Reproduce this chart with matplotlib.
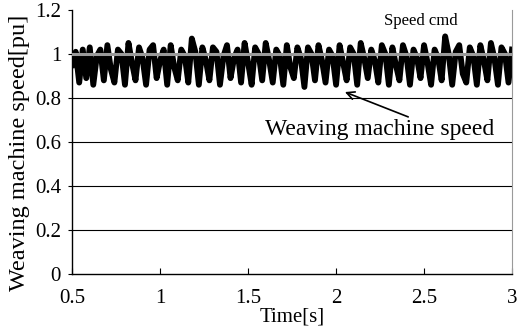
import numpy as np
import matplotlib
matplotlib.use("Agg")
from matplotlib import pyplot as plt

# speed samples every 20 ms from 0.5 s to 3.0 s
t_start = 0.5
t_step = 0.02
speed = [
	0.95, 1.01, 0.87, 1.02, 0.89, 1.03, 0.86, 0.99, 1.02, 0.88,
	1.04, 0.93, 0.87, 1.02, 1.00, 0.86, 1.05, 0.96, 0.88, 1.03,
	0.98, 0.86, 1.02, 1.04, 0.89, 0.97, 1.02, 0.86, 1.04, 0.94,
	0.88, 1.02, 0.99, 0.87, 1.07, 1.01, 0.86, 1.03, 0.97, 0.88,
	1.03, 1.01, 0.86, 0.99, 1.04, 0.89, 0.98, 1.02, 0.87, 1.05,
	0.96, 0.86, 1.03, 1.00, 0.88, 1.05, 0.97, 0.87, 1.02, 0.99,
	0.86, 1.04, 0.94, 0.89, 1.03, 0.98, 0.85, 1.03, 1.00, 0.88,
	1.04, 0.97, 0.87, 1.02, 0.99, 0.86, 1.04, 0.96, 0.88, 1.03,
	1.00, 0.86, 1.05, 0.98, 0.89, 1.02, 0.97, 0.87, 1.04, 1.00,
	0.86, 1.03, 0.95, 0.88, 1.04, 0.99, 0.86, 1.02, 0.98, 0.89,
	1.04, 0.96, 0.86, 1.02, 0.98, 0.88, 1.08, 1.00, 0.86, 1.01,
	1.04, 0.91, 0.87, 1.03, 0.99, 0.86, 1.04, 0.97, 0.88, 1.05,
	0.98, 0.86, 1.03, 1.00, 0.87, 1.02,
]
time = [t_start + t_step * i for i in range(len(speed))]
speed_cmd = 1.0

plt.rcParams['font.family'] = ['Liberation Serif', 'DejaVu Serif']

fig = plt.figure(figsize=(5.23, 3.31), dpi=100)
ax = fig.add_axes([0.138, 0.172, 0.841, 0.798])

for g in [0.2, 0.4, 0.6, 0.8]:
	ax.axhline(g, color='black', lw=0.8, zorder=1)

ax.plot(time, speed, color='black', lw=4.2, solid_joinstyle='round', zorder=2)
ax.axhline(speed_cmd, color='#9a9a9a', lw=2.2, zorder=3)

ax.set_xlim(0.5, 3)
ax.set_ylim(0, 1.2)
ax.set_xticks([0.5, 1, 1.5, 2, 2.5, 3])
ax.set_xticklabels(['0.5', '1', '1.5', '2', '2.5', '3'])
ax.set_yticks([0, 0.2, 0.4, 0.6, 0.8, 1, 1.2])
ax.set_yticklabels(['0', '0.2', '0.4', '0.6', '0.8', '1', '1.2'])
ax.tick_params(axis='x', direction='in', length=4, labelsize=15, pad=11)
ax.tick_params(axis='y', direction='out', length=3, labelsize=15, pad=5)

ax.spines['top'].set_visible(False)
ax.spines['right'].set_color('#9a9a9a')
ax.spines['left'].set_linewidth(1.0)
ax.spines['bottom'].set_linewidth(1.0)

ax.set_xlabel('Time[s]', fontsize=15)
ax.xaxis.set_label_coords(0.5, -0.125)
ax.set_ylabel('Weaving machine speed[pu]', fontsize=17.5)
ax.yaxis.set_label_coords(-0.095, 0.46)

ax.text(2.48, 1.15, 'Speed cmd', fontsize=12, ha='center', va='center')
ax.text(2.25, 0.655, 'Weaving machine speed', fontsize=17, ha='center', va='center')
ax.annotate('', xy=(2.05, 0.827), xytext=(2.41, 0.714),
	arrowprops=dict(arrowstyle='->', color='black', lw=1.2, shrinkA=0, shrinkB=0,
		mutation_scale=14))

fig.savefig('out.png', dpi=100)
